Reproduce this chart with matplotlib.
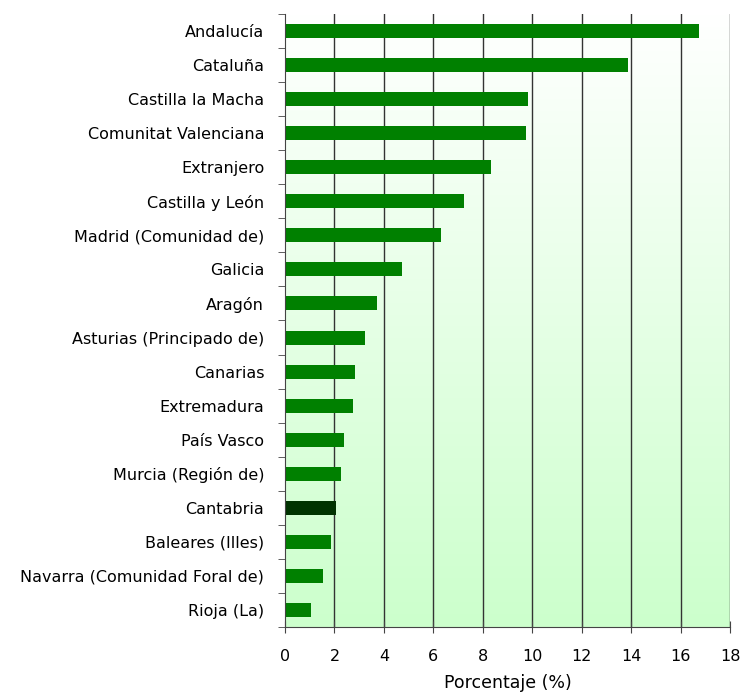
import numpy as np
import matplotlib.pyplot as plt
from matplotlib.colors import LinearSegmentedColormap

regiones = ["Andalucía", "Cataluña", "Castilla la Macha", "Comunitat Valenciana",
            "Extranjero", "Castilla y León", "Madrid (Comunidad de)", "Galicia",
            "Aragón", "Asturias (Principado de)", "Canarias", "Extremadura",
            "País Vasco", "Murcia (Región de)", "Cantabria", "Baleares (Illes)",
            "Navarra (Comunidad Foral de)", "Rioja (La)"]
porcentaje = [16.75, 13.88, 9.83, 9.75, 8.33, 7.24, 6.31, 4.73, 3.72,
              3.24, 2.83, 2.75, 2.39, 2.27, 2.06, 1.86, 1.54, 1.05]
destacado = "Cantabria"

plt.rcParams['font.family'] = ['DejaVu Sans']
plt.rcParams['font.size'] = 11.5

fig = plt.figure(figsize=(7.41, 6.97), dpi=100)
ax = fig.add_axes([285/741, 1-627/697, 445/741, 613/697])

n = len(regiones)
y = np.arange(n)[::-1]
colores = ["#003300" if r == destacado else "#008000" for r in regiones]

# fondo degradado
cmap = LinearSegmentedColormap.from_list("fondo", ["#ffffff", "#ccffcc"])
grad = np.linspace(0, 1, 256).reshape(-1, 1)
ax.imshow(grad, cmap=cmap, aspect="auto", extent=[0, 18, -0.5, n - 0.5],
          origin="upper", zorder=0)

for xv in range(2, 19, 2):
    ax.axvline(xv, color="#333333", lw=1, zorder=1)

ax.barh(y, porcentaje, height=0.41, color=colores, zorder=2)

ax.set_xlim(0, 18)
ax.set_ylim(-0.5, n - 0.5)
ax.set_xticks(range(0, 19, 2))
ax.set_yticks(y)
ax.set_yticklabels(regiones)
ax.set_yticks(np.arange(-0.5, n, 1), minor=True)
ax.tick_params(axis="y", which="major", length=0, pad=15)
ax.tick_params(axis="y", which="minor", length=5, direction="out", color="#444444")
ax.tick_params(axis="x", length=8, direction="inout", pad=12, color="#444444")
ax.spines["top"].set_visible(False)
ax.spines["right"].set_visible(False)
ax.spines["left"].set_color("#444444")
ax.spines["bottom"].set_color("#444444")
ax.set_xlabel("Porcentaje (%)", labelpad=7, fontsize=12.5)

fig.savefig("out.png", dpi=100)
